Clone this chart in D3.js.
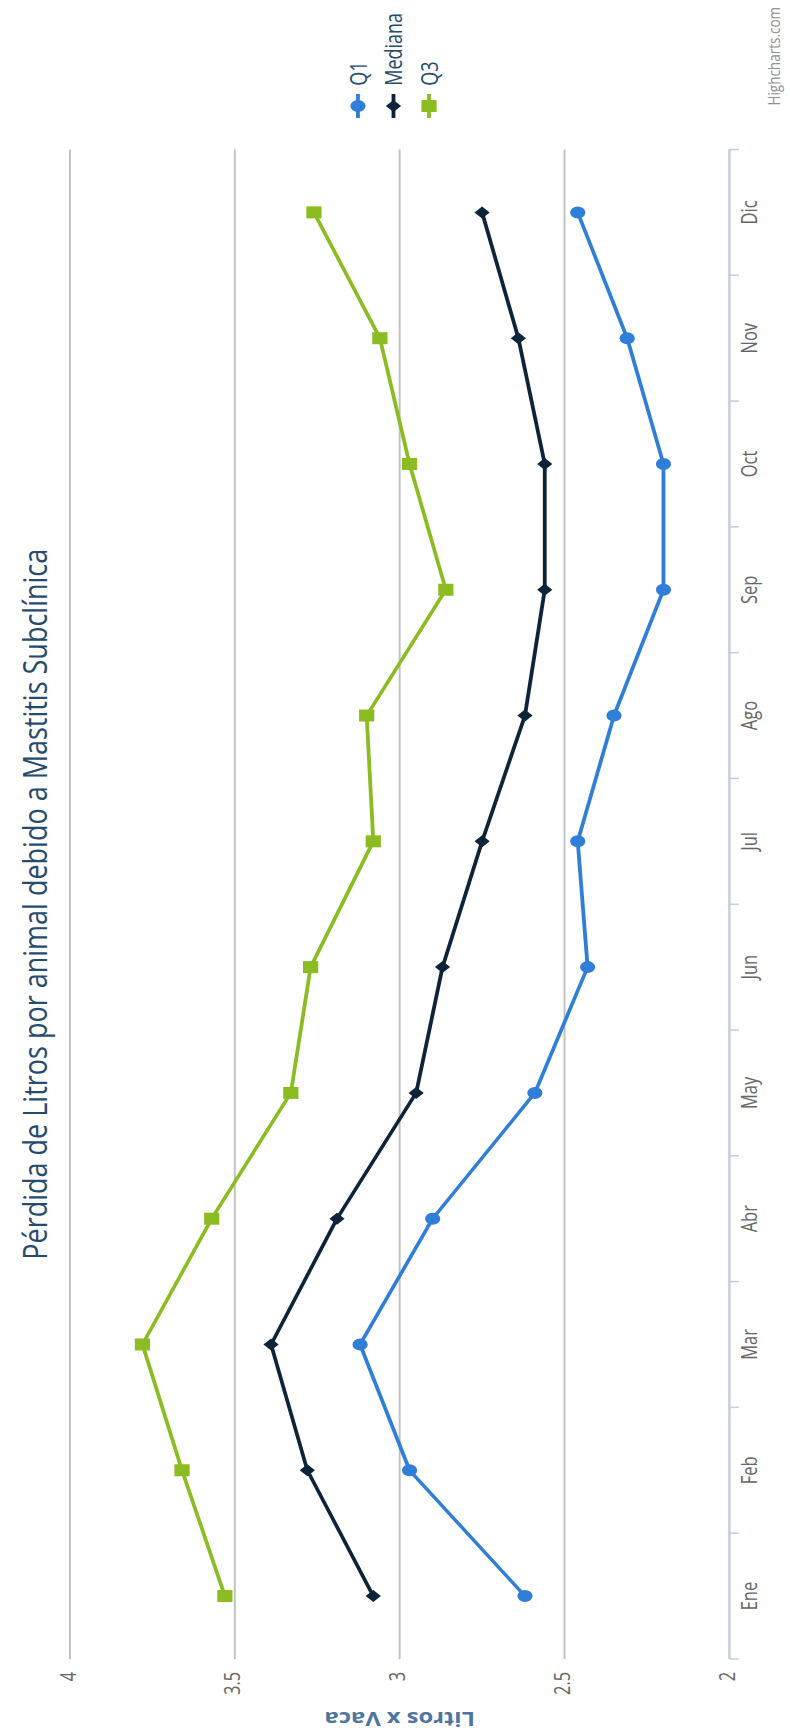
<!DOCTYPE html>
<html>
<head>
<meta charset="utf-8">
<script src="https://cdn.jsdelivr.net/npm/d3@7"></script>
<style>
  html, body { margin: 0; padding: 0; background: #ffffff; }
  svg { display: block; }
</style>
</head>
<body>
<svg id="chart" width="790" height="1735"></svg>
<script>
// ---- data ----
const categories = ["Ene", "Feb", "Mar", "Abr", "May", "Jun", "Jul", "Ago", "Sep", "Oct", "Nov", "Dic"];
const q1 =      [2.62, 2.97, 3.12, 2.90, 2.59, 2.43, 2.46, 2.35, 2.20, 2.20, 2.31, 2.46];
const mediana = [3.08, 3.28, 3.39, 3.19, 2.95, 2.87, 2.75, 2.62, 2.56, 2.56, 2.64, 2.75];
const q3 =      [3.53, 3.66, 3.78, 3.57, 3.33, 3.27, 3.08, 3.10, 2.86, 2.97, 3.06, 3.26];
const yTicks = [2, 2.5, 3, 3.5, 4];
const seriesNames = ["Q1", "Mediana", "Q3"];
const titleText = "Pérdida de Litros por animal debido a Mastitis Subclínica";
const yTitleText = "Litros x Vaca";
const creditText = "Highcharts.com";

// ---- layout ----
// The chart is laid out landscape and turned a quarter turn onto the portrait page,
// with a non-uniform stretch (sx along the category axis, sy along the value axis).
const pageW = 790, pageH = 1735;
const sx = 1.5, sy = 1.9;
const W = pageH / sx, H = pageW / sy;
const plotLeft = 50.7, plotRight = 1057, plotTop = 36.8, plotBottom = 383.9;

const fontFamily = '"Open Sans", "Noto Sans", sans-serif';
const series = [
  { name: seriesNames[0], values: q1,      color: "#2f7ed8", symbol: "circle" },
  { name: seriesNames[1], values: mediana, color: "#0d233a", symbol: "diamond" },
  { name: seriesNames[2], values: q3,      color: "#8bbc21", symbol: "square" }
];

const svg = d3.select("#chart");
const root = svg.append("g")
  .attr("transform", `translate(0,${pageH}) rotate(-90) scale(${sx},${sy})`);

root.append("rect").attr("x", 0).attr("y", 0).attr("width", W).attr("height", H).attr("fill", "#ffffff");

const x = d3.scaleBand().domain(categories).range([plotLeft, plotRight]).paddingInner(0).paddingOuter(0);
const y = d3.scaleLinear().domain([2, 4]).range([plotBottom, plotTop]);
const cx = c => x(c) + x.bandwidth() / 2;

// grid lines
root.append("g").selectAll("line").data(yTicks).join("line")
  .attr("x1", plotLeft).attr("x2", plotRight)
  .attr("y1", d => y(d)).attr("y2", d => y(d))
  .attr("stroke", "#C0C0C0").attr("stroke-width", 1);

// value axis labels
root.append("g").selectAll("text").data(yTicks).join("text")
  .attr("x", plotLeft - 8.5).attr("y", d => y(d) + 3)
  .attr("text-anchor", "end")
  .attr("font-family", fontFamily).attr("font-size", 11).attr("fill", "#666666")
  .text(d => d3.format("~g")(d));

// value axis title
root.append("text")
  .attr("transform", `translate(15.5,${(plotTop + plotBottom) / 2}) rotate(-90)`)
  .attr("text-anchor", "middle")
  .attr("font-family", fontFamily).attr("font-size", 12.5).attr("font-weight", "bold")
  .attr("fill", "#4d759e")
  .text(yTitleText);

// category axis line and tick marks between categories
root.append("line")
  .attr("x1", plotLeft).attr("x2", plotRight)
  .attr("y1", plotBottom).attr("y2", plotBottom)
  .attr("stroke", "#C0D0E0").attr("stroke-width", 1);
const boundaries = categories.map(c => x(c)).concat([x(categories[categories.length - 1]) + x.bandwidth()]);
root.append("g").selectAll("line").data(boundaries).join("line")
  .attr("x1", d => d).attr("x2", d => d)
  .attr("y1", plotBottom).attr("y2", plotBottom + 5)
  .attr("stroke", "#C0D0E0").attr("stroke-width", 1);

// category labels
root.append("g").selectAll("text").data(categories).join("text")
  .attr("x", d => cx(d)).attr("y", plotBottom + 14.5)
  .attr("text-anchor", "middle")
  .attr("font-family", fontFamily).attr("font-size", 11).attr("fill", "#666666")
  .text(d => d);

// marker shapes
function drawMarker(g, symbol, px, py, color, r) {
  if (symbol === "circle") {
    g.append("circle").attr("cx", px).attr("cy", py).attr("r", r).attr("fill", color);
  } else if (symbol === "square") {
    g.append("rect").attr("x", px - r).attr("y", py - r).attr("width", 2 * r).attr("height", 2 * r).attr("fill", color);
  } else {
    g.append("path")
      .attr("d", `M${px},${py - r}L${px + r},${py}L${px},${py + r}L${px - r},${py}Z`)
      .attr("fill", color);
  }
}

// series lines and markers
const line = d3.line().x((d, i) => cx(categories[i])).y(d => y(d));
series.forEach(s => {
  const g = root.append("g");
  g.append("path").attr("d", line(s.values))
    .attr("fill", "none").attr("stroke", s.color).attr("stroke-width", 2)
    .attr("stroke-linejoin", "round").attr("stroke-linecap", "round");
  s.values.forEach((v, i) => drawMarker(g, s.symbol, cx(categories[i]), y(v), s.color, 4));
});

// title
root.append("text")
  .attr("x", (plotLeft + plotRight) / 2).attr("y", 25)
  .attr("text-anchor", "middle")
  .attr("font-family", fontFamily).attr("font-size", 17).attr("fill", "#274b6d")
  .attr("textLength", 474).attr("lengthAdjust", "spacingAndGlyphs")
  .text(titleText);

// legend
const legend = root.append("g");
series.forEach((s, i) => {
  const ly = 188.4 + i * 18.7;
  legend.append("line").attr("x1", 1078).attr("x2", 1094).attr("y1", ly).attr("y2", ly)
    .attr("stroke", s.color).attr("stroke-width", 2);
  drawMarker(legend, s.symbol, 1086, ly, s.color, 4);
  legend.append("text").attr("x", 1099.5).attr("y", ly + 4.5)
    .attr("font-family", fontFamily).attr("font-size", 12).attr("fill", "#274b6d")
    .text(s.name);
});

// credits
root.append("text")
  .attr("x", 1152).attr("y", 410.5)
  .attr("text-anchor", "end")
  .attr("font-family", fontFamily).attr("font-size", 9).attr("fill", "#909090")
  .text(creditText);
</script>
</body>
</html>
